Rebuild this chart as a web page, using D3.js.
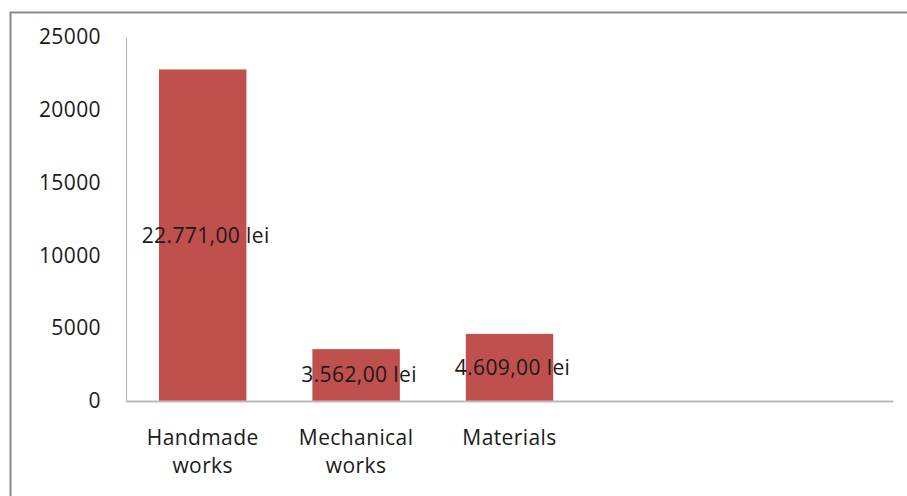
<!DOCTYPE html>
<html>
<head>
<meta charset="utf-8">
<script src="https://cdn.jsdelivr.net/npm/d3@7"></script>
<style>
  html, body { margin: 0; padding: 0; background: #fff; overflow: hidden; }
  svg { display: block; }
  text { font-family: "Open Sans", sans-serif; font-size: 21px; fill: #1a1a1a; letter-spacing: 0.4px; }
</style>
</head>
<body>
<svg id="chart" width="907" height="496"></svg>
<script>
const categories = ["Handmade works", "Mechanical works", "Materials"];
const values = [22771, 3562, 4609];
const yTicks = [0, 5000, 10000, 15000, 20000, 25000];
const slotCount = 5;

const W = 907, H = 496;
const margin = { left: 126, right: 14, top: 37, bottom: 95 };
const svg = d3.select("#chart");

// outer chart border (extends past the right/bottom edge)
svg.append("rect")
  .attr("x", 10.5).attr("y", 12.5)
  .attr("width", 1200).attr("height", 1200)
  .attr("fill", "none").attr("stroke", "#8a8a8a").attr("stroke-width", 2);

const slots = d3.range(slotCount);
const x = d3.scaleBand()
  .domain(slots)
  .range([margin.left, W - margin.right])
  .paddingInner(0.43).paddingOuter(0.215);

const y = d3.scaleLinear()
  .domain([0, 25000])
  .range([H - margin.bottom, margin.top]);

const locale = d3.formatLocale({ decimal: ",", thousands: ".", grouping: [3], currency: ["", " lei"] });
const fmt = locale.format(",.2f");

// bars
svg.append("g").selectAll("rect")
  .data(values)
  .join("rect")
  .attr("x", (d, i) => x(i))
  .attr("y", d => y(d))
  .attr("width", x.bandwidth())
  .attr("height", d => y(0) - y(d))
  .attr("fill", "#C0504D");

// y axis
const yAxis = d3.axisLeft(y).tickValues(yTicks).tickSize(0).tickPadding(25).tickFormat(d3.format("d"));
const gy = svg.append("g").attr("transform", `translate(${margin.left},0)`).call(yAxis);
gy.select(".domain").attr("stroke", "#b8b8b8").attr("stroke-width", 1.2);
gy.selectAll("text").attr("font-family", null).attr("font-size", null).attr("fill", null);

// x axis
const xAxis = d3.axisBottom(x).tickSize(0).tickFormat("");
const gx = svg.append("g").attr("transform", `translate(0,${y(0)})`).call(xAxis);
gx.select(".domain").attr("stroke", "#bbbbbb").attr("stroke-width", 2);

// category labels (wrapped)
const catG = svg.append("g");
categories.forEach((c, i) => {
  const words = c.split(" ");
  const t = catG.append("text")
    .attr("x", x(i) + x.bandwidth() / 2)
    .attr("y", y(0) + 44)
    .attr("text-anchor", "middle");
  words.forEach((w, j) => {
    t.append("tspan")
      .attr("x", x(i) + x.bandwidth() / 2)
      .attr("dy", j === 0 ? 0 : 28)
      .text(w);
  });
});

// data labels centered in bars
svg.append("g").selectAll("text")
  .data(values)
  .join("text")
  .attr("x", (d, i) => x(i) + x.bandwidth() / 2 + 3)
  .attr("y", d => (y(d) + y(0)) / 2)
  .attr("dy", "0.35em")
  .attr("text-anchor", "middle")
  .text(d => fmt(d) + " lei");
</script>
</body>
</html>
